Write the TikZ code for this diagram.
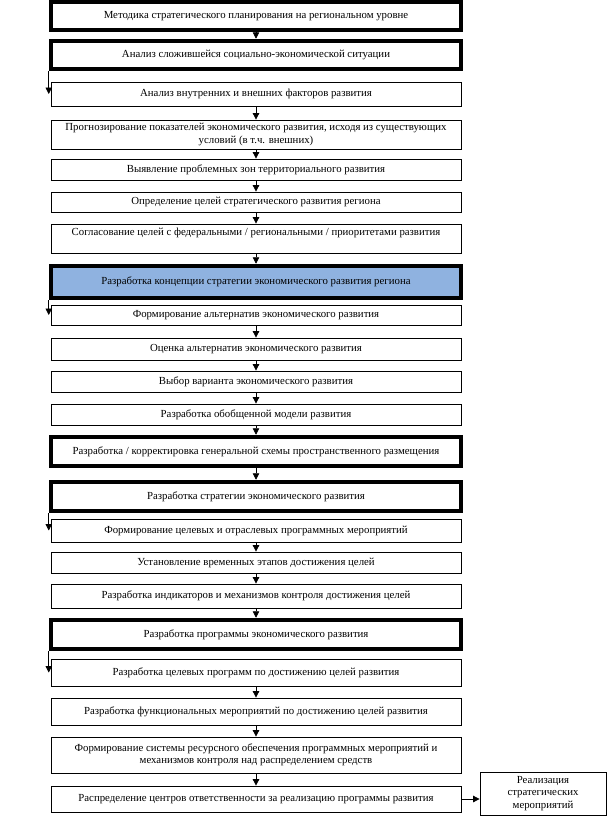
\documentclass[tikz,border=0pt]{standalone}
\usepackage{fontspec}
\setmainfont{Liberation Serif}
\usetikzlibrary{arrows.meta}
\definecolor{conceptblue}{RGB}{143,178,224}
\begin{document}
\begin{tikzpicture}[x=1pt,y=-1pt,
    stage/.style={draw,line width=0.8pt,minimum width=410pt,inner sep=0pt,align=center,
                  font=\fontsize{10.8}{12.5}\selectfont},
    keystage/.style={stage,line width=4.5pt},
    arr/.style={line width=0.8pt,-{Triangle[width=6.5pt,length=6.5pt]}}]
    \useasboundingbox (0,0) rectangle (614,817);

    % Analysis block
    \node[keystage,minimum height=28pt] (b1) at (256,16) {Методика стратегического планирования на региональном уровне};
    \node[keystage,minimum height=28pt] (b2) at (256,55) {Анализ сложившейся социально-экономической ситуации};
    \node[stage,minimum height=24pt] (b3) at (256,94) {Анализ внутренних и внешних факторов развития};
    \node[stage,minimum height=29pt] (b4) at (256,134.5) {Прогнозирование показателей экономического развития, исходя из существующих\\условий (в т.ч. внешних)};
    \node[stage,minimum height=21pt] (b5) at (256,169.5) {Выявление проблемных зон территориального развития};
    \node[stage,minimum height=20pt] (b6) at (256,202) {Определение целей стратегического развития региона};
    \node[stage,text height=11pt,text depth=18pt] (b7) at (256,238.5) {Согласование целей с федеральными / региональными / приоритетами развития};

    % Concept block
    \node[keystage,fill=conceptblue,minimum height=32pt] (b8) at (256,282) {Разработка концепции стратегии экономического развития региона};
    \node[stage,minimum height=20pt] (b9) at (256,315) {Формирование альтернатив экономического развития};
    \node[stage,minimum height=22pt] (b10) at (256,349) {Оценка альтернатив экономического развития};
    \node[stage,minimum height=21pt] (b11) at (256,381.5) {Выбор варианта экономического развития};
    \node[stage,minimum height=21pt] (b12) at (256,414.5) {Разработка обобщенной модели развития};
    \node[keystage,minimum height=29pt] (b13) at (256,451.5) {Разработка / корректировка генеральной схемы пространственного размещения};

    % Strategy block
    \node[keystage,minimum height=29pt] (b14) at (256,496.5) {Разработка стратегии экономического развития};
    \node[stage,minimum height=23pt] (b15) at (256,530.5) {Формирование целевых и отраслевых программных мероприятий};
    \node[stage,minimum height=21pt] (b16) at (256,562.5) {Установление временных этапов достижения целей};
    \node[stage,minimum height=24pt] (b17) at (256,596) {Разработка индикаторов и механизмов контроля достижения целей};

    % Programme block
    \node[keystage,minimum height=29pt] (b18) at (256,634.5) {Разработка программы экономического развития};
    \node[stage,minimum height=27pt] (b19) at (256,672.5) {Разработка целевых программ по достижению целей развития};
    \node[stage,minimum height=27pt] (b20) at (256,711.5) {Разработка функциональных мероприятий по достижению целей развития};
    \node[stage,minimum height=36pt] (b21) at (256,755) {Формирование системы ресурсного обеспечения программных мероприятий и\\механизмов контроля над распределением средств};
    \node[stage,minimum height=26pt] (b22) at (256,799) {Распределение центров ответственности за реализацию программы развития};
    \node[stage,minimum width=126pt,minimum height=43pt] (b23) at (543,793.5) {Реализация\\стратегических\\мероприятий};

    % Main chain
    \draw[arr] (b1) -- (b2);
    \draw[arr] (b3) -- (b4);
    \draw[arr] (b4) -- (b5);
    \draw[arr] (b5) -- (b6);
    \draw[arr] (b6) -- (b7);
    \draw[arr] (b7) -- (b8);
    \draw[arr] (b9) -- (b10);
    \draw[arr] (b10) -- (b11);
    \draw[arr] (b11) -- (b12);
    \draw[arr] (b12) -- (b13);
    \draw[arr] (b13) -- (b14);
    \draw[arr] (b15) -- (b16);
    \draw[arr] (b16) -- (b17);
    \draw[arr] (b17) -- (b18);
    \draw[arr] (b19) -- (b20);
    \draw[arr] (b20) -- (b21);
    \draw[arr] (b21) -- (b22);

    % Side entries
    \draw[arr] (b2.south west) -- (b2.south west |- b3.west);
    \draw[arr] (b8.south west) -- (b8.south west |- b9.west);
    \draw[arr] (b14.south west) -- (b14.south west |- b15.west);
    \draw[arr] (b18.south west) -- (b18.south west |- b19.west);
    \draw[arr] (b22.east) -- (b22.east -| b23.west);
\end{tikzpicture}
\end{document}
